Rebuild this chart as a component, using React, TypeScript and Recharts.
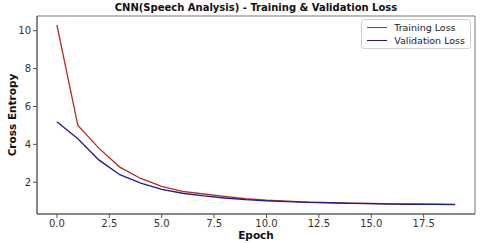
import { LineChart, Line, XAxis, YAxis, ReferenceArea } from "recharts";

const epochs = Array.from({ length: 20 }, (_, i) => i);
const trainingLoss = [10.3, 5.0, 3.8, 2.8, 2.2, 1.78, 1.52, 1.38, 1.25, 1.13, 1.05, 1.0, 0.95, 0.93, 0.9, 0.88, 0.86, 0.85, 0.84, 0.83];
const validationLoss = [5.2, 4.3, 3.18, 2.4, 1.95, 1.62, 1.42, 1.28, 1.17, 1.08, 1.02, 0.98, 0.94, 0.92, 0.89, 0.87, 0.85, 0.84, 0.83, 0.82];
const xTicks = [0, 2.5, 5, 7.5, 10, 12.5, 15, 17.5];
const yTicks = [2, 4, 6, 8, 10];

const data = epochs.map((e, i) => ({ epoch: e, train: trainingLoss[i], val: validationLoss[i] }));

const font = "DejaVu Sans, sans-serif";
const RED = "#bb2a26";
const BLUE = "#1c1c94";

function LegendBox() {
    const items = [
        { name: "Training Loss", color: RED },
        { name: "Validation Loss", color: BLUE },
    ];
    return (
        <div style={{ position: "absolute", right: 9, top: 19, border: "1px solid #d0d0d0", borderRadius: 3, background: "#fff", padding: "1px 5px 1px 5px", fontFamily: font, fontSize: 9.5, color: "#222" }}>
            {items.map((it) => (
                <div key={it.name} style={{ display: "flex", alignItems: "center", height: 13 }}>
                    <span style={{ display: "inline-block", width: 20, height: 0, borderTop: `1.5px solid ${it.color}`, marginRight: 7 }} />
                    {it.name}
                </div>
            ))}
        </div>
    );
}

export default function App() {
    return (
        <div style={{ position: "absolute", left: 0, top: 0, width: 480, height: 243, background: "#fff" }}>
            <div style={{ position: "absolute", left: 37, width: 438, top: 0, textAlign: "center", fontFamily: font, fontWeight: "bold", fontSize: 10, lineHeight: "16px", color: "#111" }}>
                CNN(Speech Analysis) - Training &amp; Validation Loss
            </div>
            <LineChart width={480} height={243} data={data} margin={{ top: 16, right: 5, bottom: 0, left: 0 }}>
                <XAxis
                    dataKey="epoch"
                    type="number"
                    domain={[-0.95, 19.95]}
                    ticks={xTicks}
                    tickFormatter={(v: number) => v.toFixed(1)}
                    height={29}
                    tickSize={4}
                    tickMargin={2}
                    stroke="#555"
                    tick={{ fill: "#333", fontSize: 10, fontFamily: font }}
                    label={{ value: "Epoch", position: "insideBottom", offset: 4, fill: "#111", fontSize: 10.5, fontWeight: "bold", fontFamily: font }}
                />
                <YAxis
                    type="number"
                    domain={[0.325, 10.775]}
                    ticks={yTicks}
                    width={37}
                    tickSize={4}
                    tickMargin={2}
                    stroke="#555"
                    tick={{ fill: "#333", fontSize: 10, fontFamily: font }}
                    label={{ value: "Cross Entropy", angle: -90, position: "insideLeft", offset: 12, style: { textAnchor: "middle" }, fill: "#111", fontSize: 10.5, fontWeight: "bold", fontFamily: font }}
                />
                <ReferenceArea x1={-0.95} x2={19.95} y1={0.325} y2={10.775} fill="none" stroke="#777" strokeWidth={1} ifOverflow="visible" />
                <Line type="linear" dataKey="train" name="Training Loss" stroke={RED} strokeWidth={1.3} dot={false} isAnimationActive={false} />
                <Line type="linear" dataKey="val" name="Validation Loss" stroke={BLUE} strokeWidth={1.3} dot={false} isAnimationActive={false} />
            </LineChart>
            <LegendBox />
        </div>
    );
}
